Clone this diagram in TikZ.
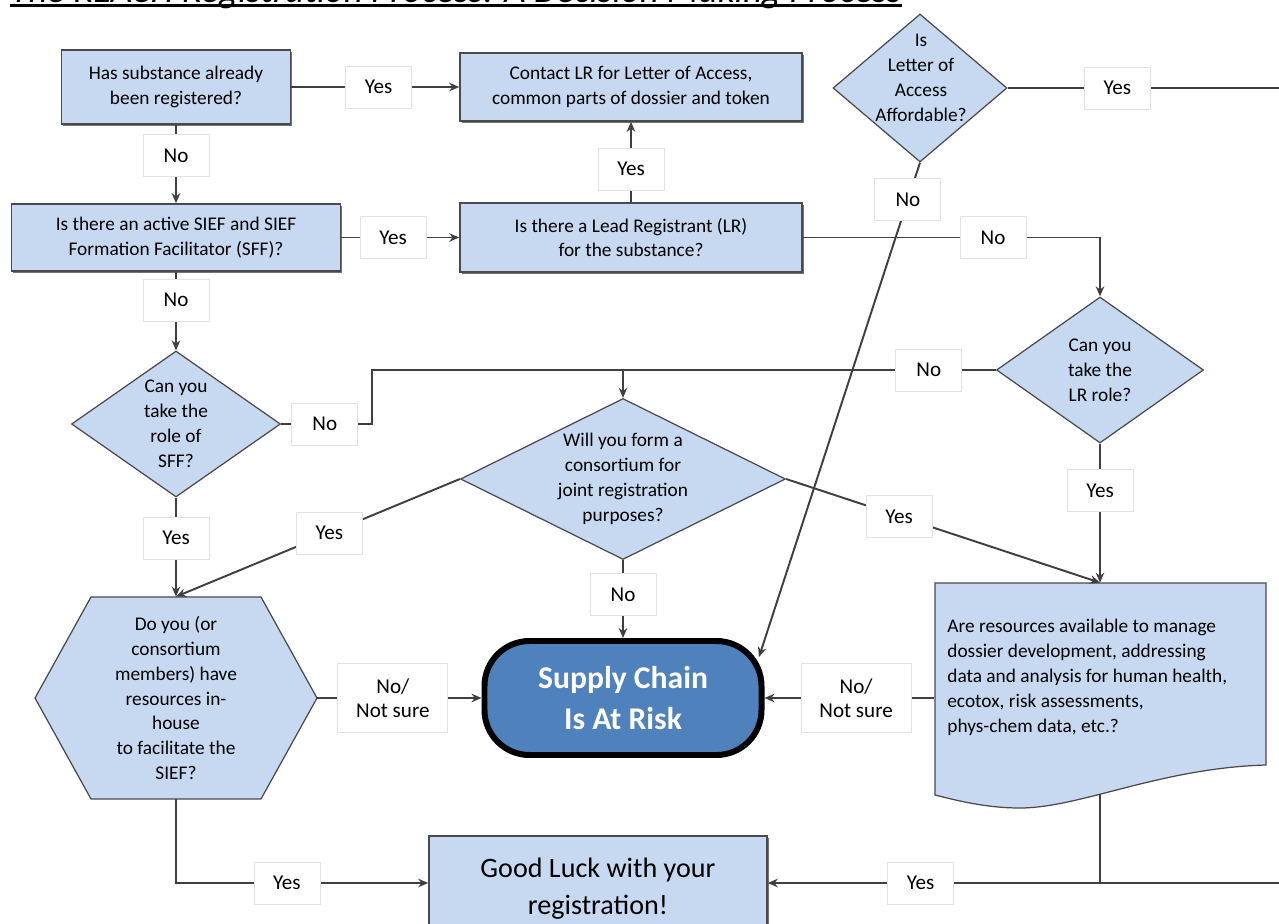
\documentclass[tikz,border=0pt]{standalone}
\usepackage{fontspec}
\setmainfont{Carlito}
\usepackage{xcolor}
\usepackage{tikz}
\usetikzlibrary{shapes.geometric,arrows.meta,shadows}
\definecolor{RRBox}{HTML}{C6D9F1}
\definecolor{RRRisk}{HTML}{4F81BD}
\definecolor{RRLine}{HTML}{3F3F3F}
\definecolor{RREdge}{HTML}{4A4A4A}
\definecolor{RRTag}{HTML}{E2E2E2}

\tikzset{
  qbox/.style={draw=RREdge,line width=.9pt,fill=RRBox,align=center,inner sep=0pt,
    font=\fontsize{11}{14.2}\selectfont,
    drop shadow={shadow xshift=.3mm,shadow yshift=-.45mm,fill=black!55,opacity=1}},
  qdiamond/.style={diamond,draw=RREdge,line width=.7pt,fill=RRBox,inner sep=0pt},
  qshape/.style={draw=RREdge,line width=.7pt,fill=RRBox},
  qtext/.style={align=center,inner sep=0pt,font=\fontsize{11}{14.2}\selectfont},
  riskbox/.style={rectangle,rounded corners=9mm,draw=black,line width=3.4pt,fill=RRRisk,
    text=white,align=center,font=\fontsize{18}{22.8}\selectfont\bfseries},
  ans/.style={fill=white,draw=RRTag,line width=.5pt,inner sep=0pt,
    minimum width=13.2mm,minimum height=8.4mm,font=\fontsize{12}{14}\selectfont},
  ans2/.style={ans,align=center,minimum width=22mm,minimum height=13.8mm,
    font=\fontsize{12}{13.6}\selectfont},
  wire/.style={draw=RRLine,line width=1.1pt},
  flow/.style={wire,-{Stealth[length=2mm,width=1.7mm]}}
}

\begin{document}
\begin{tikzpicture}[x=0.2mm,y=-0.2mm]
\path[use as bounding box] (0,0) rectangle (1279,924);
\fill[white] (0,0) rectangle (1279,924);

\node[anchor=base west,inner sep=0pt,font=\fontsize{21}{25}\selectfont\itshape] (title) at (10,2.7)
  {The REACH Registration Process: A Decision Making Process};
\draw[line width=.6mm] ([yshift=-.6mm]title.base west) -- ([yshift=-.6mm]title.base east);

\node[qbox,minimum width=45.8mm,minimum height=14.8mm] (registered) at (176,87) {Has substance already\\been registered?};
\node[qbox,minimum width=68.4mm,minimum height=13.6mm] (contact) at (631,87) {Contact LR for Letter of Access,\\common parts of dossier and token};
\node[qdiamond,minimum width=34.8mm,minimum height=29.6mm] (affordable) at (920,88) {};
\node[qtext] (affordable-q) at (921,78) {Is\\Letter of\\Access\\Affordable?};
\node[qbox,minimum width=65.8mm,minimum height=13.4mm] (sief) at (176,237.5) {Is there an active SIEF and SIEF\\Formation Facilitator (SFF)?};
\node[qbox,minimum width=68.4mm,minimum height=13.8mm] (lead) at (631,237.5) {Is there a Lead Registrant (LR)\\for the substance?};
\node[qdiamond,minimum width=41.4mm,minimum height=29.2mm] (canlr) at (1100,370) {};
\node[qtext] (canlr-q) at (1100,370) {Can you\\take the\\LR role?};
\node[qdiamond,minimum width=41.8mm,minimum height=29.2mm] (canff) at (176,424) {};
\node[qtext] (canff-q) at (176,424) {Can you\\take the\\role of\\SFF?};
\node[qdiamond,minimum width=65mm,minimum height=32.2mm] (decide) at (623,479) {};
\node[qtext] (decide-q) at (623,479) {Will you form a\\consortium for\\joint registration\\purposes?};

\path[qshape] (35,698) -- (91,597) -- (261,597) -- (317,698) -- (261,799) -- (91,799) -- cycle;
\node[qtext,minimum width=56.4mm,minimum height=40.4mm] (resources) at (176,698) {Do you (or\\consortium\\members) have\\resources in-\\house\\to facilitate the\\SIEF?};

\path[qshape] (935,583) -- (1266,583) -- (1266,765) .. controls (1160,768) and (1080,808) .. (1020,808)
  .. controls (985,808) and (955,800) .. (935,795) -- cycle;
\node[minimum width=66.2mm,minimum height=46mm,inner sep=0pt] (doc) at (1100,698) {};
\node[qtext,anchor=west,align=left] (doc-q) at (947,677) {Are resources available to manage\\dossier development, addressing\\data and analysis for human health,\\ecotox, risk assessments,\\phys-chem data, etc.?};

\node[riskbox,minimum width=55.4mm,minimum height=22.8mm] (risk) at (623,698) {Supply Chain\\Is At Risk};
\node[qbox,minimum width=67.6mm,minimum height=18.8mm,font=\fontsize{16}{21}\selectfont] (goodluck) at (598,883) {\rule{0pt}{1.1em}Good Luck with your\\registration!};

\coordinate (merge) at (623,370);
\coordinate (sffbend) at (372,424);
\coordinate (offtop) at (1300,88);
\coordinate (offbottom) at (1300,883);
\coordinate (yesjoin) at (1100,883);
\coordinate (docout) at (1100,794);

\draw[flow] (registered) -- node[ans,pos=.52] (registered-yes) {Yes} (contact);
\draw[flow] (registered) -- node[ans,pos=.39] (registered-no) {No} (sief);
\draw[flow] (sief) -- node[ans,pos=.44] (sief-yes) {Yes} (lead);
\draw[flow] (lead) -- node[ans,pos=.41] (lead-yes) {Yes} (contact);
\draw[flow] (lead) -| node[ans,pos=.32] (lead-no) {No} (canlr);
\draw[flow] (sief) -- node[ans,pos=.36] (sief-no) {No} (canff);
\draw[flow] (affordable.south) -- node[ans,pos=.075] (affordable-no) {No} ([xshift=-1.1mm,yshift=-3.8mm]risk.north east);
\draw[wire] (affordable) -- node[ans,pos=.375] (affordable-yes) {Yes} (offtop) -- (offbottom) -- (yesjoin);
\draw[wire] (canff) -- node[ans,pos=.48] (canff-no) {No} (sffbend) |- (merge);
\draw[flow] (canlr) -- node[ans,pos=.18] (canlr-no) {No} (merge) -- (decide);
\draw[flow] (canff) -- node[ans,pos=.41] (canff-yes) {Yes} (resources);
\draw[flow] (decide.west) -- node[ans,pos=.46] (decide-yes-l) {Yes} (resources.north);
\draw[flow] (decide.east) -- node[ans,pos=.36] (decide-yes-r) {Yes} (doc.north);
\draw[flow] (decide) -- node[ans,pos=.44] (decide-no) {No} (risk);
\draw[flow] (canlr) -- node[ans,pos=.34] (canlr-yes) {Yes} (doc);
\draw[flow] (resources) -- node[ans2,pos=.46] (resources-no) {No/\\Not sure} (risk);
\draw[flow] (doc) -- node[ans2,pos=.46] (doc-no) {No/\\Not sure} (risk);
\draw[flow] (resources) |- node[ans,pos=.72] (resources-yes) {Yes} (goodluck);
\draw[flow] (docout) -- (yesjoin) -- node[ans,pos=.54] (doc-yes) {Yes} (goodluck);
\end{tikzpicture}
\end{document}
